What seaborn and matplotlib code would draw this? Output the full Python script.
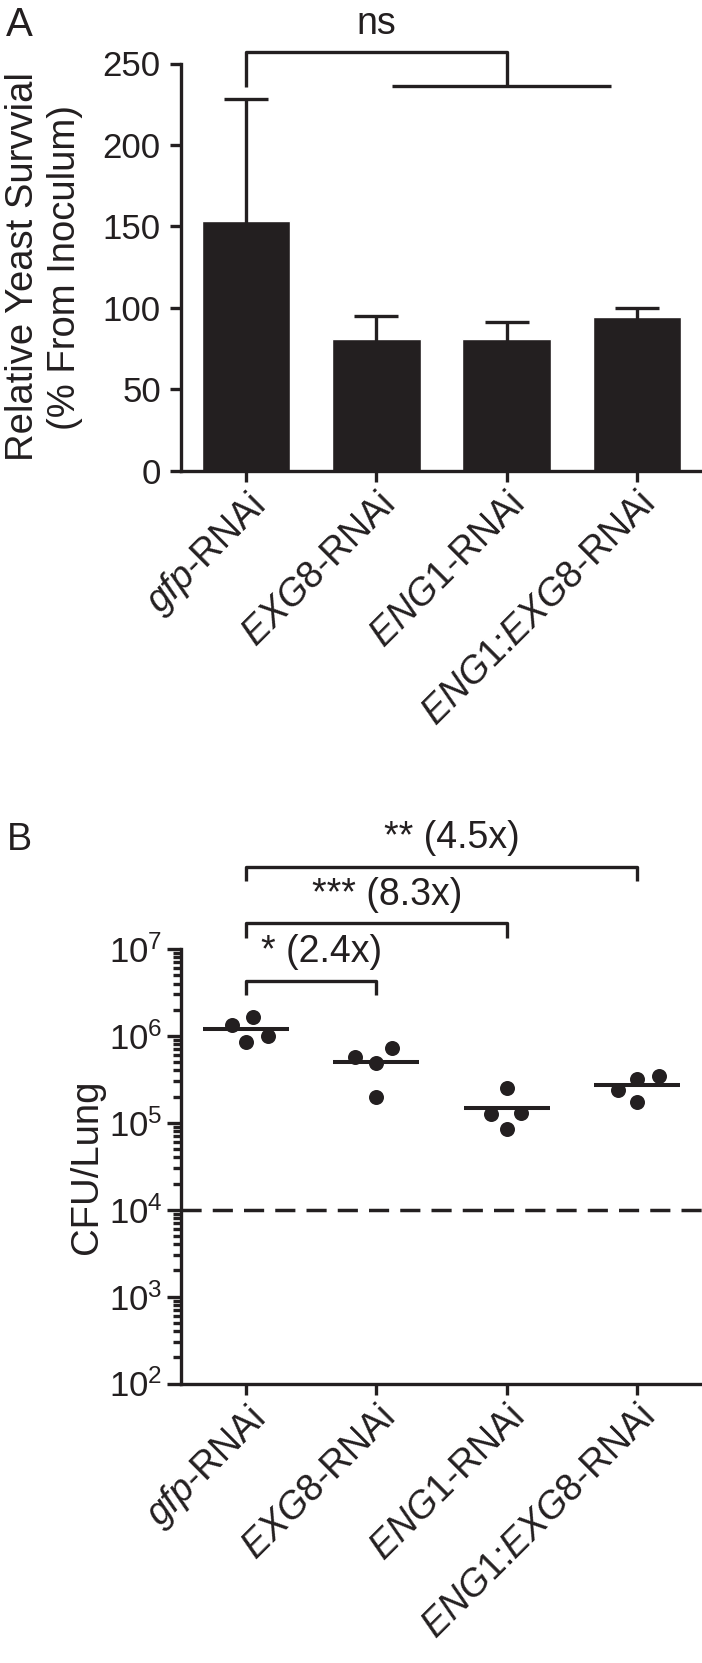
import numpy as np
import pandas as pd
import matplotlib
matplotlib.use("Agg")
import matplotlib.pyplot as plt
import seaborn as sns

# categories / labels
groups = ["gfp", "EXG8", "ENG1", "ENG1:EXG8"]
tick_labels = [r"$\mathit{gfp}$-RNAi", r"$\mathit{EXG8}$-RNAi",
               r"$\mathit{ENG1}$-RNAi", r"$\mathit{ENG1}$:$\mathit{EXG8}$-RNAi"]

# panel A: relative yeast survival (mean, error)
survival_mean = [153.0, 81.0, 80.5, 94.5]
survival_err = [75.0, 14.0, 11.0, 5.3]

# panel B: CFU per lung, 4 mice per group
cfu_gfp = [8.57e5, 9.97e5, 1.33e6, 1.66e6]
cfu_exg8 = [2.0e5, 4.84e5, 5.77e5, 7.31e5]
cfu_eng1 = [8.4e4, 1.25e5, 1.3e5, 2.5e5]
cfu_double = [1.75e5, 2.4e5, 3.2e5, 3.5e5]
detection_limit = 1e4

# significance annotations for panel B: (other group, label)
sig_pairs = [(1, "* (2.4x)"), (2, "*** (8.3x)"), (3, "** (4.5x)")]

INK = "#231f20"
W, H = 702, 1663

sns.set_theme(style="ticks")
plt.rcParams["font.family"] = ["Liberation Sans", "DejaVu Sans"]
plt.rcParams["mathtext.fontset"] = "custom"
plt.rcParams["mathtext.rm"] = "Liberation Sans"
plt.rcParams["mathtext.it"] = "Liberation Sans:italic"
plt.rcParams["text.color"] = INK
plt.rcParams["axes.labelcolor"] = INK
plt.rcParams["xtick.color"] = INK
plt.rcParams["ytick.color"] = INK

fig = plt.figure(figsize=(W / 100, H / 100), dpi=100)
axA = fig.add_axes([181 / W, 1 - 470.5 / H, 1 - 181 / W, 407 / H])
axB = fig.add_axes([181 / W, 1 - 1383.5 / H, 1 - 181 / W, 434.5 / H])

# ---- panel A ----
df_a = pd.DataFrame({"group": groups, "survival": survival_mean})
sns.barplot(data=df_a, x="group", y="survival", color=INK, saturation=1,
            width=0.68, errorbar=None, ax=axA)
# lower half of the error bar is hidden inside the black bar
axA.errorbar(range(len(groups)), survival_mean, yerr=survival_err,
             fmt="none", ecolor=INK, elinewidth=2.4, capsize=16,
             capthick=2.4)
axA.set_xlim(-0.5, 3.5)
axA.set_ylim(0, 250)
axA.set_yticks(range(0, 251, 50))
axA.set_ylabel("Relative Yeast Survvial\n(% From Inoculum)", fontsize=27.5)
axA.yaxis.set_label_coords(-0.188, 0.5)
axA.set_xlabel("")

# ns bracket
bk = dict(color=INK, lw=2.4, clip_on=False, solid_capstyle="butt")
axA.plot([0, 0, 2, 2], [235.5, 257, 257, 236], **bk)
axA.plot([1.12, 2.8], [236, 236], **bk)
axA.text(1, 263, "ns", ha="center", va="bottom", fontsize=27)

# ---- panel B ----
df_b = pd.DataFrame({
    "group": np.repeat(groups, 4),
    "cfu": np.concatenate([cfu_gfp, cfu_exg8, cfu_eng1, cfu_double]),
})
# invisible edge widens the swarm spacing like the original scatter layout
sns.swarmplot(data=df_b, x="group", y="cfu", color=INK, size=10.8,
              linewidth=4.5, edgecolor=(1, 1, 1, 0), log_scale=True, ax=axB)
means = df_b.groupby("group", sort=False)["cfu"].mean()
xpos = np.arange(len(groups))
axB.hlines(means.values, xpos - 0.33, xpos + 0.33, color=INK, lw=2.9)
axB.axhline(detection_limit, color=INK, lw=2.5, dashes=(5.8, 3.2))
axB.set_xlim(-0.5, 3.5)
axB.set_ylim(1e2, 1e7)
axB.yaxis.set_minor_formatter(matplotlib.ticker.NullFormatter())
axB.set_ylabel("CFU/Lung", fontsize=27.5)
axB.yaxis.set_label_coords(-0.146, 0.5)
axB.set_xlabel("")

top_levels = [6.635, 7.296, 7.947]
for (j, label), lvl in zip(sig_pairs, top_levels):
    axB.plot([0, 0, j, j], [10 ** (lvl - 0.17), 10 ** lvl, 10 ** lvl,
                            10 ** (lvl - 0.17)], **bk)
    axB.text(j / 2 + 0.08, 10 ** (lvl + 0.33), label, ha="center",
             va="center", fontsize=27)

# ---- shared styling ----
for ax in (axA, axB):
    sns.despine(ax=ax)
    for s in ("left", "bottom"):
        ax.spines[s].set_linewidth(2.4)
        ax.spines[s].set_color(INK)
    ax.tick_params(axis="both", which="major", width=2.4, length=8,
                   labelsize=25)
    ax.set_xticks(range(len(groups)))
    ax.set_xticklabels(tick_labels, rotation=45, ha="right",
                       rotation_mode="anchor", fontsize=27)
axA.tick_params(axis="y", which="major", pad=6.5)
axB.tick_params(axis="y", which="major", length=10)
axB.tick_params(axis="y", which="minor", width=2.4, length=5.5)

fig.text(19 / W, 1 - 25 / H, "A", fontsize=29, ha="center", va="center")
fig.text(19 / W, 1 - 840 / H, "B", fontsize=27, ha="center", va="center")

fig.savefig("out.png", dpi=100)
